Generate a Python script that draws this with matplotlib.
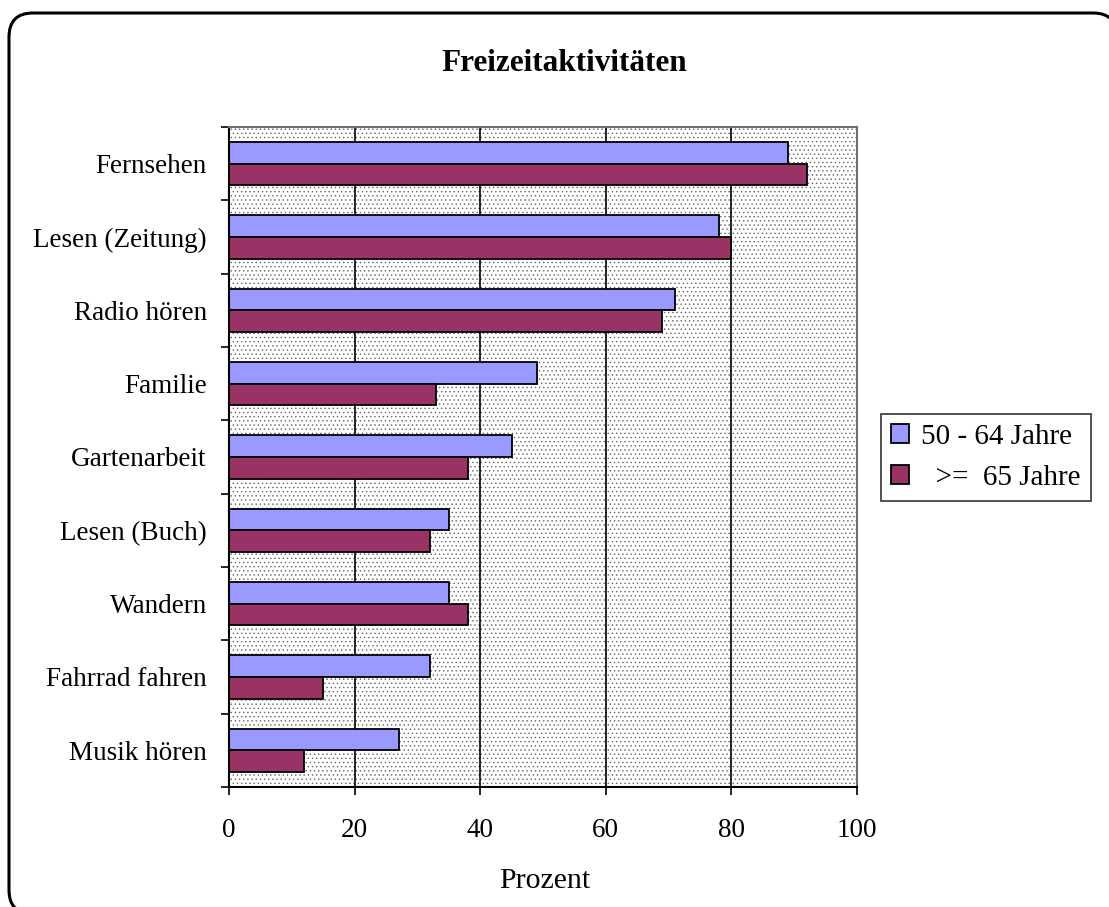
import matplotlib
matplotlib.use("Agg")
import matplotlib.pyplot as plt
import numpy as np
from matplotlib.patches import Rectangle, FancyBboxPatch
from matplotlib.transforms import IdentityTransform

categories = ["Fernsehen", "Lesen (Zeitung)", "Radio hören", "Familie", "Gartenarbeit",
              "Lesen (Buch)", "Wandern", "Fahrrad fahren", "Musik hören"]
series_names = ["50 - 64 Jahre", "  >=  65 Jahre"]
values_50_64 = [89, 78, 71, 49, 45, 35, 35, 32, 27]
values_65plus = [92, 80, 69, 33, 38, 32, 38, 15, 12]
x_ticks = [0, 20, 40, 60, 80, 100]
title = "Freizeitaktivitäten"
x_label = "Prozent"

plt.rcParams['font.family'] = ['Liberation Serif', 'DejaVu Serif']
plt.rcParams['hatch.linewidth'] = 0.5

W, H = 1109, 907
fig = plt.figure(figsize=(W / 100, H / 100), dpi=100)

# rounded outer frame (white fill so the renderer keeps its curves intact)
frame = FancyBboxPatch((9, -7), 1108, 901, boxstyle="round,pad=0,rounding_size=24",
                       transform=IdentityTransform(), facecolor='white',
                       edgecolor='black', linewidth=2.2, zorder=-5)
fig.patches.append(frame)

ax = fig.add_axes([229 / W, 1 - 787 / H, (857 - 229) / W, (787 - 127) / H])

# stippled plot background
ax.set_facecolor('white')
bg = Rectangle((0, 0), 1, 1, transform=ax.transAxes, facecolor='white',
               edgecolor='#666666', hatch='....', linewidth=0, zorder=0.1)
ax.add_patch(bg)

y = np.arange(len(categories))
h = 0.296
ax.barh(y - h / 2, values_50_64, height=h, color='#9999FF', edgecolor='black',
        linewidth=1.3, zorder=2, label=series_names[0])
ax.barh(y + h / 2, values_65plus, height=h, color='#993366', edgecolor='black',
        linewidth=1.3, zorder=2, label=series_names[1])

ax.set_xlim(0, 100)
ax.set_ylim(len(categories) - 0.5, -0.5)
ax.set_xticks(x_ticks)
ax.set_xticklabels([str(t) for t in x_ticks])
ax.set_yticks(y)
ax.set_yticklabels(categories)
ax.set_yticks(np.arange(len(categories) + 1) - 0.5, minor=True)

ax.tick_params(axis='y', which='major', length=0, pad=16, labelsize=19.5)
ax.tick_params(axis='y', which='minor', length=6, width=1.2, direction='out', color='black')
ax.tick_params(axis='x', which='major', length=6, width=1.2, direction='out', pad=16,
               labelsize=19.5, color='black')

ax.set_axisbelow(True)
ax.xaxis.grid(True, color='black', linewidth=1.2, zorder=0.5)
ax.yaxis.grid(False)

for side in ['left', 'bottom']:
    ax.spines[side].set_color('black')
    ax.spines[side].set_linewidth(1.5)
for side in ['top', 'right']:
    ax.spines[side].set_color('#707070')
    ax.spines[side].set_linewidth(1.5)

fig.text(564 / W, 1 - 71 / H, title, ha='center', va='baseline', fontsize=22.5,
         fontweight='bold')
fig.text(545 / W, 1 - 888 / H, x_label, ha='center', va='baseline', fontsize=21.5)

leg = fig.legend(loc='center left', bbox_to_anchor=(881 / W, 1 - 457.5 / H),
                 fontsize=21, frameon=True, fancybox=False, borderpad=0.35,
                 handlelength=0.62, handleheight=0.62, handletextpad=0.4,
                 labelspacing=0.5, borderaxespad=0)
leg.get_frame().set_edgecolor('black')
leg.get_frame().set_linewidth(1.2)

fig.savefig("out.png", dpi=100)
